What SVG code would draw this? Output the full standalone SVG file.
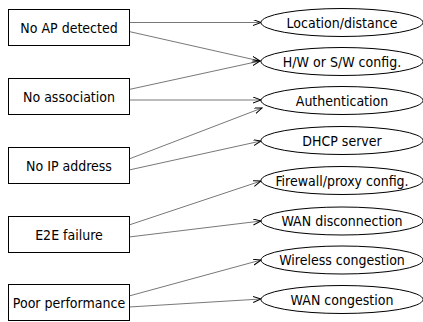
<svg xmlns="http://www.w3.org/2000/svg" width="423" height="322" viewBox="0 0 423 322">
<style>
.box{fill:#fff;stroke:#000;stroke-width:1}
.ell{fill:#fff;stroke:#000;stroke-width:1}
.t{font-family:"DejaVu Sans Condensed","DejaVu Sans",sans-serif;font-stretch:condensed;font-size:14px;fill:#000;text-anchor:middle;dominant-baseline:central}
.c{stroke:#555;stroke-width:0.8;fill:none;marker-end:url(#a)}
</style>
<defs>
<marker id="a" markerWidth="9" markerHeight="7" refX="8" refY="3" orient="auto" markerUnits="userSpaceOnUse">
<path d="M0,0 L8,3 L0,6" fill="none" stroke="#000" stroke-width="1"/>
</marker>
</defs>
<g id="connectors">
<line class="c" x1="129" y1="22.5" x2="261" y2="22.5"/>
<line class="c" x1="129" y1="31.5" x2="260" y2="61"/>
<line class="c" x1="129" y1="89.5" x2="260" y2="61"/>
<line class="c" x1="129" y1="100" x2="261" y2="100"/>
<line class="c" x1="129" y1="159" x2="262" y2="108"/>
<line class="c" x1="129" y1="170" x2="261" y2="141"/>
<line class="c" x1="129" y1="225" x2="261" y2="181"/>
<line class="c" x1="129" y1="237" x2="261" y2="221"/>
<line class="c" x1="129" y1="296" x2="261" y2="260"/>
<line class="c" x1="129" y1="307" x2="261" y2="299"/>
</g>
<g id="n1"><rect class="box" x="8.5" y="9.5" width="121" height="36"/><text class="t" x="69" y="27.5">No AP detected</text></g>
<g id="n2"><rect class="box" x="8.5" y="78.5" width="121" height="36"/><text class="t" x="69" y="96.5">No association</text></g>
<g id="n3"><rect class="box" x="8.5" y="147.5" width="121" height="36"/><text class="t" x="69" y="165.5">No IP address</text></g>
<g id="n4"><rect class="box" x="8.5" y="216.5" width="121" height="36"/><text class="t" x="69" y="234.5">E2E failure</text></g>
<g id="n5"><rect class="box" x="8.5" y="284.5" width="121" height="36"/><text class="t" x="69" y="302.5">Poor performance</text></g>
<g id="e1"><ellipse class="ell" cx="342" cy="22.5" rx="81" ry="14"/><text class="t" x="342" y="22.5">Location/distance</text></g>
<g id="e2"><ellipse class="ell" cx="342" cy="61.5" rx="81" ry="14"/><text class="t" x="342" y="61.5">H/W or S/W config.</text></g>
<g id="e3"><ellipse class="ell" cx="342" cy="100.5" rx="81" ry="14"/><text class="t" x="342" y="100.5">Authentication</text></g>
<g id="e4"><ellipse class="ell" cx="342" cy="140.5" rx="81" ry="14"/><text class="t" x="342" y="140.5">DHCP server</text></g>
<g id="e5"><ellipse class="ell" cx="342" cy="180.5" rx="81" ry="14"/><text class="t" x="342" y="180.5">Firewall/proxy config.</text></g>
<g id="e6"><ellipse class="ell" cx="342" cy="221" rx="81" ry="14"/><text class="t" x="342" y="221">WAN disconnection</text></g>
<g id="e7"><ellipse class="ell" cx="342" cy="260" rx="81" ry="14"/><text class="t" x="342" y="260">Wireless congestion</text></g>
<g id="e8"><ellipse class="ell" cx="342" cy="299.5" rx="81" ry="14"/><text class="t" x="342" y="299.5">WAN congestion</text></g>
</svg>
